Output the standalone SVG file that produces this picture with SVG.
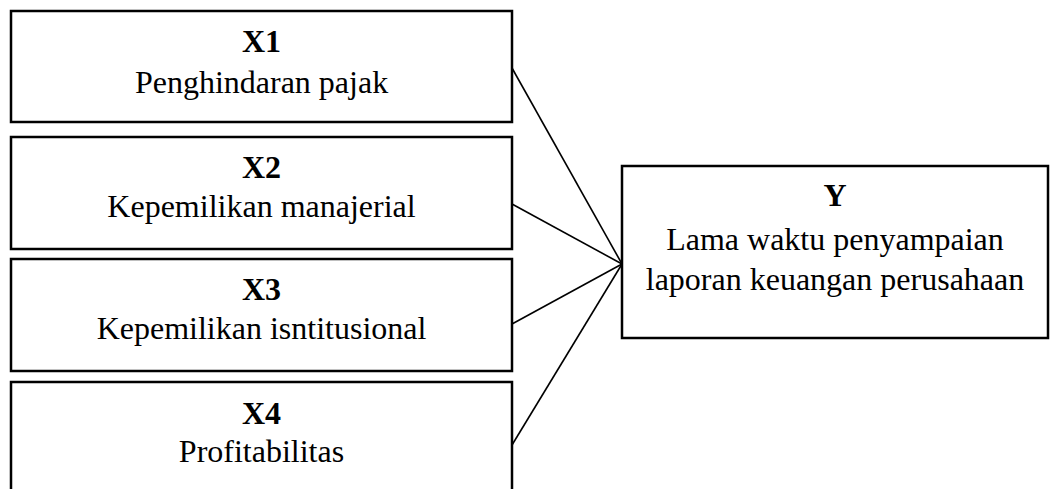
<svg xmlns="http://www.w3.org/2000/svg" width="1051" height="489" viewBox="0 0 1051 489">
<style>
.box{fill:#fff;stroke:#000;stroke-width:2.5}
.conn{stroke:#000;stroke-width:1.6;fill:none}
text{font-family:"Liberation Serif","Times New Roman",serif;font-size:32px;fill:#000;text-anchor:middle}
.b{font-weight:bold}
</style>
<rect width="1051" height="489" fill="#fff"/>
<g id="connectors">
<line class="conn" x1="512" y1="68" x2="622" y2="264"/>
<line class="conn" x1="512" y1="204" x2="622" y2="264"/>
<line class="conn" x1="512" y1="324" x2="622" y2="264"/>
<line class="conn" x1="512" y1="445" x2="622" y2="264"/>
</g>
<g id="x1">
<rect class="box" x="11" y="11" width="501" height="111"/>
<text class="b" x="261.5" y="52">X1</text>
<text x="261.5" y="93">Penghindaran pajak</text>
</g>
<g id="x2">
<rect class="box" x="11" y="137" width="501" height="112"/>
<text class="b" x="261.5" y="178">X2</text>
<text x="261.5" y="217">Kepemilikan manajerial</text>
</g>
<g id="x3">
<rect class="box" x="11" y="259" width="501" height="112"/>
<text class="b" x="261.5" y="300">X3</text>
<text x="261.5" y="339">Kepemilikan isntitusional</text>
</g>
<g id="x4">
<rect class="box" x="11" y="382" width="501" height="120"/>
<text class="b" x="261.5" y="424">X4</text>
<text x="261.5" y="462">Profitabilitas</text>
</g>
<g id="y">
<rect class="box" x="622" y="166" width="426" height="172"/>
<text class="b" x="835" y="206">Y</text>
<text x="835" y="250">Lama waktu penyampaian</text>
<text x="835" y="290">laporan keuangan perusahaan</text>
</g>
</svg>
